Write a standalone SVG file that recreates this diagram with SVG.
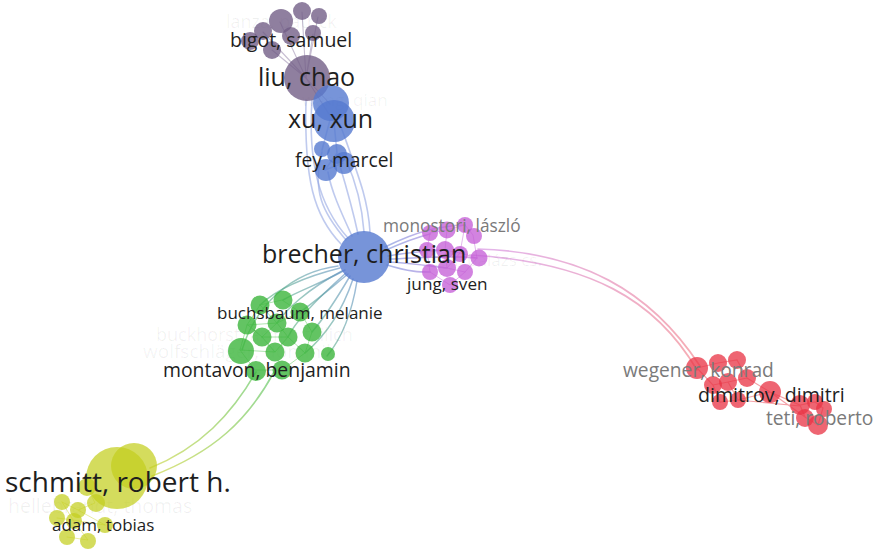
<svg xmlns="http://www.w3.org/2000/svg" width="880" height="551" viewBox="0 0 880 551">
  <defs>
    <linearGradient id="gMagRed" gradientUnits="userSpaceOnUse" x1="480" y1="250" x2="700" y2="368">
      <stop offset="0" stop-color="#c86ad6"/>
      <stop offset="1" stop-color="#ee5a66"/>
    </linearGradient>
    <linearGradient id="gBlueGreen" gradientUnits="userSpaceOnUse" x1="360" y1="262" x2="260" y2="350">
      <stop offset="0" stop-color="#5f86d0"/>
      <stop offset="1" stop-color="#4cbf5a"/>
    </linearGradient>
    <linearGradient id="gGreenYellow" gradientUnits="userSpaceOnUse" x1="265" y1="375" x2="150" y2="472">
      <stop offset="0" stop-color="#5cc45c"/>
      <stop offset="1" stop-color="#c9d43a"/>
    </linearGradient>
    <linearGradient id="gBlueMag" gradientUnits="userSpaceOnUse" x1="385" y1="255" x2="470" y2="255">
      <stop offset="0" stop-color="#6e88d8"/>
      <stop offset="1" stop-color="#c070dc"/>
    </linearGradient>
  </defs>
  <style>
    .e { fill: none; stroke-linecap: round; }
    .eb { stroke: #8a9ee0; stroke-width: 1.6; stroke-opacity: 0.55; }
    .ebg { stroke: url(#gBlueGreen); stroke-width: 1.5; stroke-opacity: 0.6; }
    .egy { stroke: url(#gGreenYellow); stroke-width: 1.6; stroke-opacity: 0.65; }
    .ebm { stroke: url(#gBlueMag); stroke-width: 1.6; stroke-opacity: 0.6; }
    .emr { stroke: url(#gMagRed); stroke-width: 1.7; stroke-opacity: 0.5; }
    .er { stroke: #f07a84; stroke-width: 1.2; stroke-opacity: 0.7; }
    .eg { stroke: #8ad88a; stroke-width: 1; stroke-opacity: 0.7; }
    .em { stroke: #d79be4; stroke-width: 1; stroke-opacity: 0.7; }
    .ep { stroke: #a293b4; stroke-width: 1.1; stroke-opacity: 0.6; }
    .ey { stroke: #dfe47a; stroke-width: 1; stroke-opacity: 0.7; }
    .purple { fill: #6f5b84; fill-opacity: 0.78; }
    .blue { fill: #5579cf; fill-opacity: 0.8; }
    .mag { fill: #c35ad6; fill-opacity: 0.75; }
    .green { fill: #3cb53c; fill-opacity: 0.8; }
    .yellow { fill: #c4cf1e; fill-opacity: 0.72; }
    .red { fill: #e93446; fill-opacity: 0.76; }
    text { font-family: "Open Sans", "Liberation Sans", sans-serif; }
    .lbl { fill: #1e1e1e; }
    .grey { fill: #7a7a7a; }
    .faint { fill: #000; fill-opacity: 0.06; }
  </style>

  <rect width="880" height="551" fill="#ffffff"/>

  <!-- connectors -->
  <g id="edges">
    <!-- inside the liu, chao cluster -->
    <path class="e ep" d="M306 78 L280 22 M306 78 L302 12 M306 78 L318 17 M306 78 L313 34 M306 78 L272 50 M306 78 L263 32"/>
    <path class="e ep" d="M306 78 L330 104 M306 78 L334 122"/>
    <!-- brecher to the xu / fey / liu group -->
    <path class="e eb" d="M352 236 C340 210 331 190 328 172"/>
    <path class="e eb" d="M358 234 C352 206 346 186 340 166"/>
    <path class="e eb" d="M364 232 C362 205 356 182 346 160"/>
    <path class="e eb" d="M346 240 C322 212 312 190 322 152"/>
    <path class="e eb" d="M341 244 C314 216 304 180 306 100"/>
    <path class="e eb" d="M348 238 C318 205 308 160 312 100"/>
    <path class="e eb" d="M370 232 C368 200 360 180 340 124"/>
    <path class="e eb" d="M322 150 L330 120 M337 153 L334 122 M325 170 L337 153 M343 163 L325 170"/>
    <!-- brecher to the green cluster -->
    <path class="e ebg" d="M345 270 C320 284 300 290 283 300"/>
    <path class="e ebg" d="M348 274 C326 292 312 304 300 312"/>
    <path class="e ebg" d="M350 276 C336 300 324 318 312 332"/>
    <path class="e ebg" d="M353 279 C344 306 330 332 305 353"/>
    <path class="e ebg" d="M340 268 C300 278 276 290 260 305"/>
    <path class="e ebg" d="M357 281 C352 312 342 338 327 356"/>
    <path class="e ebg" d="M338 266 C292 272 256 304 242 350"/>
    <path class="e ebg" d="M342 271 C306 290 286 310 277 323"/>
    <path class="e ebg" d="M346 273 C318 298 296 320 288 337"/>
    <!-- green cluster to schmitt, robert h. -->
    <path class="e egy" d="M256 372 C232 414 200 448 150 468"/>
    <path class="e egy" d="M274 372 C248 420 214 452 152 476"/>
    <!-- inside the green cluster -->
    <path class="e eg" d="M260 305 L282 300 L300 312 L312 332 L305 353 L282 370 L255 370 L240 350 L247 325 L260 305 M262 337 L288 337 L277 323 L262 337 M247 325 L277 323 M288 337 L305 353 M262 337 L275 352 L288 337 M240 350 L275 352 M260 305 L277 323 L300 312 M248 325 L262 337"/>
    <!-- brecher to the jung, sven cluster -->
    <path class="e ebm" d="M386 250 C404 242 418 237 430 234"/>
    <path class="e ebm" d="M388 256 C410 252 426 251 445 250"/>
    <path class="e ebm" d="M388 262 C410 263 430 266 447 268"/>
    <path class="e ebm" d="M385 247 C420 230 440 226 465 225"/>
    <path class="e ebm" d="M389 259 C420 258 450 255 477 258"/>
    <path class="e ebm" d="M387 265 C410 272 420 272 430 272"/>
    <!-- inside the jung, sven cluster -->
    <path class="e em" d="M430 233 L447 230 L465 225 L473 235 L477 258 L465 272 L450 285 L430 272 L427 250 L430 233 M445 250 L460 253 L447 268 L445 250 M427 250 L445 250 M460 253 L477 258 M447 230 L445 250 M465 225 L460 253 M447 268 L465 272"/>
    <!-- jung, sven cluster to the red cluster -->
    <path class="e emr" d="M478 249 C580 252 650 290 700 366"/>
    <path class="e emr" d="M470 255 C590 262 656 300 697 370"/>
    <!-- inside the red cluster -->
    <path class="e er" d="M697 368 L718 363 L737 360 L747 378 L770 392 L800 405 L815 402 L823 408 L818 425 L805 417 L800 405 M713 385 L728 382 L747 378 M697 368 L713 385 L720 402 L738 400 L770 392 M728 382 L738 400 M770 392 L805 417 M738 400 L800 406"/>
    <!-- inside the yellow cluster -->
    <path class="e ey" d="M62 502 L78 510 L95 503 L87 487 M57 518 L73 520 L105 525 M67 537 L88 540 L73 520 L62 502 M78 510 L105 525"/>
  </g>

  <!-- faint, partly hidden labels -->
  <g id="faint-labels">
    <text class="faint" x="226" y="28" font-size="18">lanza, patrick</text>
    <text class="faint" x="302" y="106" font-size="17">wang, qian</text>
    <text class="faint" x="424" y="266" font-size="17">csáji, balázs cs.</text>
    <text class="faint" x="156" y="341" font-size="18">buckhorst, armin f. ilich</text>
    <text class="faint" x="143" y="358" font-size="19">wolfschläger, dominik</text>
    <text class="faint" x="8" y="513" font-size="19.5">hellebrandt, thomas</text>
  </g>

  <!-- purple cluster -->
  <g id="n-purple-1"><circle class="purple" cx="281" cy="21" r="12"/></g>
  <g id="n-purple-2"><circle class="purple" cx="302" cy="11" r="9"/></g>
  <g id="n-purple-3"><circle class="purple" cx="319" cy="16" r="8"/></g>
  <g id="n-purple-4"><circle class="purple" cx="263" cy="31" r="9"/></g>
  <g id="n-purple-5"><circle class="purple" cx="313" cy="33" r="8"/></g>
  <g id="n-purple-6"><circle class="purple" cx="291" cy="36" r="9"/></g>
  <g id="n-purple-7"><circle class="purple" cx="272" cy="50" r="9"/></g>
  <g id="n-bigot-samuel"><circle class="purple" cx="250" cy="41" r="9"/></g>
  <g id="n-liu-chao"><circle class="purple" cx="307" cy="78" r="23"/></g>

  <!-- blue cluster -->
  <g id="n-qian"><circle class="blue" cx="331" cy="103" r="18"/></g>
  <g id="n-xu-xun"><circle class="blue" cx="334" cy="121" r="21"/></g>
  <g id="n-blue-1"><circle class="blue" cx="322" cy="149" r="8"/></g>
  <g id="n-blue-2"><circle class="blue" cx="337" cy="154" r="10"/></g>
  <g id="n-blue-3"><circle class="blue" cx="344" cy="163" r="11"/></g>
  <g id="n-fey-marcel"><circle class="blue" cx="326" cy="170" r="11"/></g>
  <g id="n-brecher-christian"><circle class="blue" cx="364" cy="257" r="26"/></g>

  <!-- magenta cluster -->
  <g id="n-mag-1"><circle class="mag" cx="430" cy="233" r="8"/></g>
  <g id="n-monostori-laszlo"><circle class="mag" cx="447" cy="230" r="8.5"/></g>
  <g id="n-mag-3"><circle class="mag" cx="465" cy="225" r="8"/></g>
  <g id="n-mag-4"><circle class="mag" cx="474" cy="236" r="8"/></g>
  <g id="n-mag-5"><circle class="mag" cx="427" cy="250" r="8"/></g>
  <g id="n-mag-6"><circle class="mag" cx="445" cy="250" r="9"/></g>
  <g id="n-mag-7"><circle class="mag" cx="460" cy="254" r="8"/></g>
  <g id="n-csaji"><circle class="mag" cx="479" cy="258" r="8.5"/></g>
  <g id="n-mag-9"><circle class="mag" cx="430" cy="272" r="8"/></g>
  <g id="n-mag-10"><circle class="mag" cx="447" cy="268" r="9"/></g>
  <g id="n-mag-11"><circle class="mag" cx="465" cy="272" r="8"/></g>
  <g id="n-jung-sven"><circle class="mag" cx="450" cy="285" r="8"/></g>

  <!-- green cluster -->
  <g id="n-green-1"><circle class="green" cx="260" cy="305" r="9.5"/></g>
  <g id="n-green-2"><circle class="green" cx="283" cy="300" r="9.5"/></g>
  <g id="n-green-3"><circle class="green" cx="300" cy="312" r="9.5"/></g>
  <g id="n-green-4"><circle class="green" cx="247" cy="325" r="9.5"/></g>
  <g id="n-green-5"><circle class="green" cx="277" cy="323" r="9.5"/></g>
  <g id="n-buchsbaum-melanie"><circle class="green" cx="262" cy="337" r="9.5"/></g>
  <g id="n-green-7"><circle class="green" cx="288" cy="337" r="9.5"/></g>
  <g id="n-green-8"><circle class="green" cx="312" cy="332" r="9.5"/></g>
  <g id="n-wolfschlaeger"><circle class="green" cx="241" cy="351" r="13"/></g>
  <g id="n-green-10"><circle class="green" cx="275" cy="352" r="9.5"/></g>
  <g id="n-green-11"><circle class="green" cx="305" cy="353" r="9.5"/></g>
  <g id="n-green-12"><circle class="green" cx="328" cy="354" r="7"/></g>
  <g id="n-green-13"><circle class="green" cx="282" cy="370" r="9.5"/></g>
  <g id="n-montavon-benjamin"><circle class="green" cx="256" cy="371" r="10"/></g>

  <!-- yellow cluster -->
  <g id="n-yellow-big"><circle class="yellow" cx="134" cy="466" r="23"/></g>
  <g id="n-yellow-1"><circle class="yellow" cx="87" cy="487" r="9"/></g>
  <g id="n-hellebrandt"><circle class="yellow" cx="62" cy="502" r="8"/></g>
  <g id="n-yellow-3"><circle class="yellow" cx="78" cy="510" r="8"/></g>
  <g id="n-yellow-4"><circle class="yellow" cx="96" cy="503" r="9"/></g>
  <g id="n-adam-tobias"><circle class="yellow" cx="57" cy="518" r="8"/></g>
  <g id="n-yellow-6"><circle class="yellow" cx="74" cy="521" r="8"/></g>
  <g id="n-yellow-7"><circle class="yellow" cx="105" cy="525" r="8"/></g>
  <g id="n-yellow-8"><circle class="yellow" cx="67" cy="537" r="8"/></g>
  <g id="n-yellow-9"><circle class="yellow" cx="88" cy="541" r="8"/></g>
  <g id="n-schmitt-robert"><circle class="yellow" cx="117" cy="478" r="31"/></g>

  <!-- red cluster -->
  <g id="n-wegener-konrad"><circle class="red" cx="697" cy="368" r="11"/></g>
  <g id="n-red-2"><circle class="red" cx="718" cy="363" r="9"/></g>
  <g id="n-red-3"><circle class="red" cx="737" cy="360" r="9"/></g>
  <g id="n-red-4"><circle class="red" cx="713" cy="385" r="9"/></g>
  <g id="n-red-5"><circle class="red" cx="728" cy="382" r="9"/></g>
  <g id="n-red-6"><circle class="red" cx="747" cy="378" r="9"/></g>
  <g id="n-red-7"><circle class="red" cx="720" cy="402" r="8"/></g>
  <g id="n-red-8"><circle class="red" cx="738" cy="400" r="8"/></g>
  <g id="n-dimitrov-dimitri"><circle class="red" cx="770" cy="392" r="11"/></g>
  <g id="n-red-10"><circle class="red" cx="800" cy="405" r="10"/></g>
  <g id="n-red-11"><circle class="red" cx="815" cy="402" r="8"/></g>
  <g id="n-red-12"><circle class="red" cx="824" cy="409" r="8"/></g>
  <g id="n-red-13"><circle class="red" cx="805" cy="418" r="9"/></g>
  <g id="n-teti-roberto"><circle class="red" cx="818" cy="425" r="10"/></g>

  <!-- labels, drawn above every circle -->
  <g id="labels">
    <text class="lbl" x="230" y="47" font-size="19.5">bigot, samuel</text>
    <text class="lbl" x="258" y="86" font-size="25">liu, chao</text>
    <text class="lbl" x="288" y="128" font-size="25">xu, xun</text>
    <text class="lbl" x="295" y="167" font-size="19.3">fey, marcel</text>
    <text class="lbl" x="262" y="263" font-size="25">brecher, christian</text>
    <text class="grey" x="383" y="232" font-size="17.3">monostori, lászló</text>
    <text class="lbl" x="407" y="290" font-size="17.2">jung, sven</text>
    <text class="lbl" x="217" y="319" font-size="17">buchsbaum, melanie</text>
    <text class="lbl" x="163" y="377" font-size="19.4">montavon, benjamin</text>
    <text class="lbl" x="5" y="492" font-size="28">schmitt, robert h.</text>
    <text class="lbl" x="52" y="531" font-size="17">adam, tobias</text>
    <text class="grey" x="623" y="377" font-size="19.2">wegener, konrad</text>
    <text class="lbl" x="698" y="402" font-size="19.6">dimitrov, dimitri</text>
    <text class="grey" x="766" y="425" font-size="19.2">teti, roberto</text>
  </g>
</svg>
